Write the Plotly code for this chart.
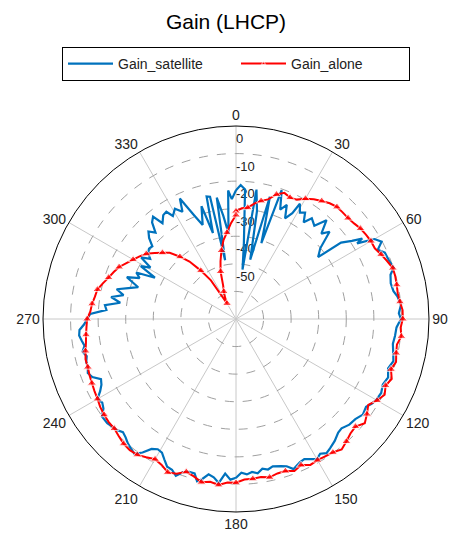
import plotly.graph_objects as go

# ---- data (gain in dB, angle in degrees, clockwise from top) ----
theta_sat = [0, 2, 4, 6, 7.5, 9, 11, 13.5, 15.5, 17, 18.5, 19.5, 22, 24, 26, 28, 29, 31, 33, 35, 37, 40,
             42.5, 45, 47, 50, 53, 54, 56, 57.5, 58, 60, 62, 64, 66, 69, 72, 74, 77, 80, 82, 85, 88, 90,
             93, 96, 99, 102, 105, 108, 111, 114, 117, 120, 122, 124, 127, 130, 133, 136, 138, 141, 144,
             146, 148, 150, 152, 154, 156, 159, 161, 163, 166, 168, 170, 172, 174, 176, 178, 180, 182,
             184, 186, 188, 190, 192, 193.5, 195, 197, 199, 201, 203, 205, 207, 209, 211, 213, 215, 217,
             219, 221, 223, 225, 227, 229, 231, 234, 236, 238, 240, 242, 244, 246, 248, 250, 252, 254,
             256, 258, 260, 262, 264, 266, 268, 270, 272, 274, 276, 278, 280, 282, 284, 286, 288, 290,
             291, 293, 295, 297, 299, 301, 303, 305, 307, 309, 311, 313, 315, 317, 319, 321, 322.5, 325,
             327, 328.5, 331, 333.5, 335, 338, 340.5, 343, 345, 346.5, 348, 349.5, 351, 353, 355, 356.5,
             358, 360]
gain_sat = [-13.3, -11.4, -12.9, -32.8, -41.9, -12.5, -20.1, -37.9, -14.0, -23.8, -31.0, -10.4, -17.2,
            -14.7, -19.4, -16.5, -12.2, -15.0, -14.0, -17.2, -14.3, -15.8, -11.4, -16.2, -13.6, -20.1,
            -22.7, -12.9, -9.3, -5.7, -8.2, -2.0, -0.2, -2.8, -0.9, -0.6, 0.1, -1.7, -2.4, -2.0, -0.9,
            0.1, -0.9, -0.2, -1.7, -2.0, -2.4, -1.7, -0.9, -2.0, -0.9, -1.7, -0.9, -1.3, -2.0, -3.1,
            -2.4, -3.5, -3.8, -4.9, -4.6, -3.1, -2.0, -1.3, -2.4, -1.3, -2.4, -3.5, -3.1, -1.7, -3.5,
            -4.2, -4.9, -4.2, -4.9, -3.5, -4.2, -3.5, -4.2, -2.4, -1.7, -3.8, -0.2, -2.0, -2.8, -0.6,
            0.5, -2.0, -2.0, -1.3, 0.9, -0.6, -0.9, -2.8, -4.6, -4.9, -3.8, -0.9, 1.2, 0.5, -0.2, -1.3,
            -2.0, -0.9, -0.6, 0.1, 0.1, -2.0, -2.8, -2.0, -4.2, -5.7, -6.4, -3.8, -2.8, -3.5, -3.5,
            -4.2, -3.1, -4.2, -3.5, -2.8, -3.1, -4.9, -6.0, -7.1, -12.9, -12.2, -17.6, -14.0, -18.3,
            -15.4, -19.4, -22.7, -19.4, -17.6, -22.0, -20.1, -27.0, -20.5, -23.8, -19.0, -22.0, -20.1,
            -19.4, -19.8, -16.9, -15.1, -17.2, -13.6, -12.2, -16.2, -14.0, -13.6, -16.2, -14.3, -16.5,
            -11.8, -19.4, -23.8, -17.2, -27.7, -14.3, -14.7, -38.3, -15.4, -22.3, -28.8, -13.3, -16.5,
            -13.3]

theta_alone = list(range(0, 360, 3)) + [360]
gain_alone = [-20.9, -19.8, -19.4, -17.6, -16.2, -15.1, -12.5, -11.0, -11.8, -11.4,
              -9.6, -8.2, -7.1, -6.0, -5.3, -5.3, -5.3, -4.9, -4.2, -3.8,
              -3.5, -3.5, -2.4, -1.3, -0.2, -0.2, -0.4, -0.6, -0.2, 0.5,
              0.5, -0.2, 0.3, -0.9, -0.6, 0.1, -0.9, 0.5, -0.6, 0.5,
              -0.9, -2.8, -1.3, 0.1, -1.7, -1.3, -0.2, 0.9, -0.2, -0.6,
              -0.9, -0.6, -2.0, -0.9, -2.0, -2.0, -1.3, -2.0, -1.7, -1.7,
              -0.6, -0.6, 0.5, -0.2, 0.5, -0.9, -1.7, 0.1, 0.9, -0.6,
              -1.3, -0.2, 0.9, 1.2, 0.9, 0.1, -0.6, -0.6, -0.9, -1.3,
              -2.0, -2.4, -2.8, -3.1, -3.5, -3.5, -4.2, -4.9, -5.3, -5.7,
              -6.0, -7.1, -7.5, -8.2, -8.6, -10.0, -11.4, -12.5, -13.6, -15.4,
              -16.9, -18.3, -19.8, -22.0, -24.1, -26.0, -29.6, -33.2, -38.3, -43.3,
              -53.5, -51.3, -49.1, -47.0, -41.9, -38.3, -34.6, -31.0, -28.5, -25.2,
              -22.3, -20.9]

radial_ticks = [-50, -40, -30, -20, -10, 0]
angle_ticks = list(range(0, 360, 30))

BLUE = "rgb(0,114,189)"
RED = "rgb(255,0,0)"
FONT = "Liberation Sans, Arial, sans-serif"

fig = go.Figure()

# radial tick labels, drawn between rings like the reference
fig.add_trace(go.Scatterpolar(
    r=[v + 5 for v in radial_ticks], theta=[0] * len(radial_ticks),
    mode="text", text=[str(v) for v in radial_ticks], textposition="middle right",
    textfont=dict(family=FONT, size=13, color="#222"), showlegend=False, hoverinfo="skip"))

fig.add_trace(go.Scatterpolar(
    r=gain_sat, theta=theta_sat, mode="lines", name="Gain_satellite",
    line=dict(color=BLUE, width=2.2)))

marker_sizes = [8 if i % 2 == 0 else 0 for i in range(len(gain_alone))]
fig.add_trace(go.Scatterpolar(
    r=gain_alone, theta=theta_alone, mode="lines+markers", name="Gain_alone",
    line=dict(color=RED, width=2),
    marker=dict(symbol="triangle-up", size=marker_sizes, color=RED)))

fig.update_layout(
    width=452, height=535,
    margin=dict(l=0, r=0, t=0, b=0),
    paper_bgcolor="white", plot_bgcolor="white",
    font=dict(family=FONT, size=13, color="#222"),
    title=dict(text="Gain (LHCP)", x=0.5, xanchor="center", y=1 - 22 / 535, yanchor="middle",
               font=dict(family=FONT, size=21, color="black")),
    legend=dict(orientation="h", x=236 / 452, xanchor="center", y=1 - 47 / 535, yanchor="top",
                bordercolor="black", borderwidth=1, bgcolor="white", itemwidth=45,
                font=dict(family=FONT, size=14, color="#222"), entrywidth=113),
    polar=dict(
        domain=dict(x=[43 / 452, 429 / 452], y=[23 / 535, 409 / 535]),
        bgcolor="white",
        angularaxis=dict(rotation=90, direction="clockwise", tickmode="array",
                         tickvals=angle_ticks, ticktext=[str(a) for a in angle_ticks],
                         showline=True, linecolor="black", linewidth=1,
                         gridcolor="rgb(200,200,200)", gridwidth=1, ticks="",
                         tickfont=dict(family=FONT, size=14, color="#222")),
        radialaxis=dict(range=[-60, 10], tickvals=radial_ticks, showticklabels=False,
                        showline=False, ticks="", gridcolor="rgb(160,160,160)",
                        griddash="dash", gridwidth=1),
    ),
)

fig.write_html("out.html")
